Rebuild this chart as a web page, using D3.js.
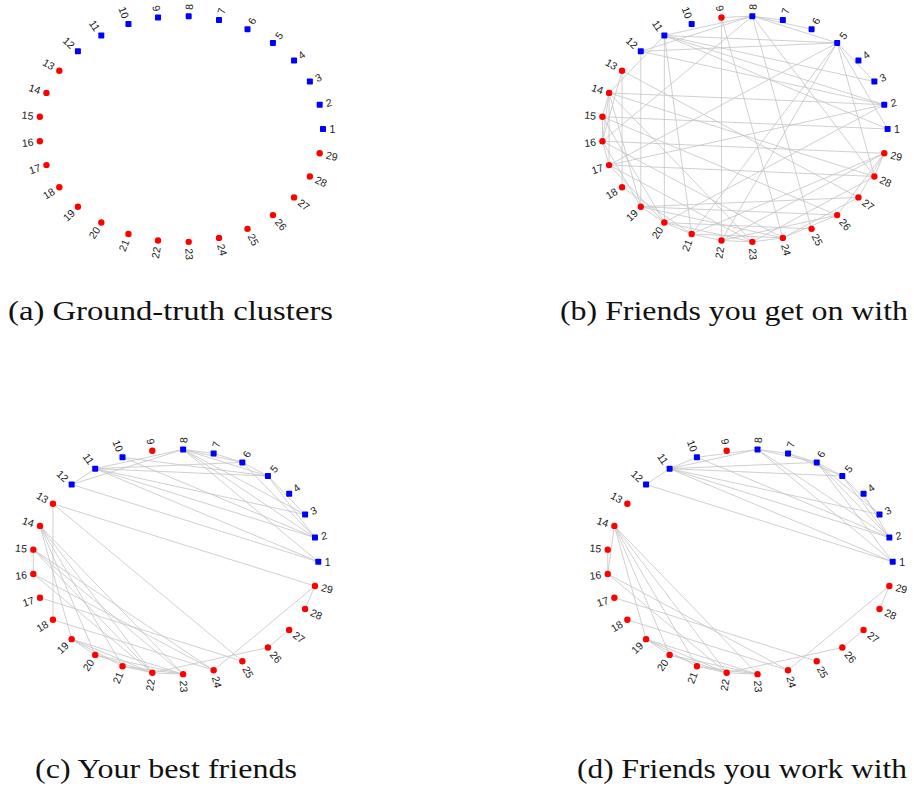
<!DOCTYPE html>
<html>
<head>
<meta charset="utf-8">
<script src="https://cdn.jsdelivr.net/npm/d3@7"></script>
<style>
  html, body { margin: 0; padding: 0; background: #ffffff; }
  svg { display: block; }
  .cap { font-family: "Liberation Serif", "Times New Roman", Times, serif; }
  .lbl { font-family: "Liberation Sans", Arial, Helvetica, sans-serif; }
</style>
</head>
<body>
<svg id="chart" width="914" height="793"></svg>
<script>
// ---------------- DATA ----------------
const nodeIds = d3.range(1, 30);                // 29 nodes
// ground truth cluster: 1..12 blue, 13..29 red
const groundTruth = [1,1,1,1,1,1,1,1,1,1,1,1, 2,2,2,2,2,2,2,2,2,2,2,2,2,2,2,2,2];
// detected clusters (node 9 lands in the red group)
const detected    = [1,1,1,1,1,1,1,1,2,1,1,1, 2,2,2,2,2,2,2,2,2,2,2,2,2,2,2,2,2];

const captions = ["(a) Ground-truth clusters", "(b) Friends you get on with",
                  "(c) Your best friends", "(d) Friends you work with"];

const edgesA = [];
const edgesB = [
  [8,9],[8,11],[8,5],[8,7],[8,6],[8,25],[8,28],[8,16],[8,12],
  [9,22],[9,24],[11,5],[11,2],[11,20],[11,21],[11,14],[11,1],[11,3],
  [5,3],[5,28],[5,21],[5,17],[5,1],[5,22],[12,19],[12,2],[12,5],
  [13,18],[13,27],[13,16],[14,15],[14,16],[14,17],[14,2],[14,23],[14,19],[14,28],
  [15,16],[15,1],[15,26],[15,20],[16,17],[16,24],[16,29],[16,19],
  [17,28],[17,23],[17,20],[17,2],[18,21],[19,20],[19,26],[19,27],[19,24],
  [20,21],[20,25],[20,23],[20,2],[21,22],[21,24],[22,23],[22,26],[22,29],
  [23,24],[24,26],[24,27],[26,29],[27,29],[28,29],[23,28],[21,29]
];
const edgesC = [
  [11,12],[12,8],[11,8],[12,1],[10,5],[11,5],[11,6],[11,3],[11,2],[11,1],
  [8,7],[8,6],[8,5],[8,3],[8,2],[8,1],[7,6],[6,5],[5,3],[5,2],[6,2],[10,2],
  [13,29],[13,18],[13,25],
  [14,19],[14,20],[14,21],[14,22],[14,23],
  [15,16],[15,22],[15,23],[15,24],[16,22],[16,24],[17,25],[18,24],
  [19,20],[19,21],[19,22],[19,23],[20,22],[20,23],[21,22],[21,23],[22,23],
  [22,26],[24,29],[26,27],[28,29]
];
const edgesD = [
  [11,12],[12,1],[11,10],[11,8],[10,8],[11,6],[11,5],[11,3],[11,2],[11,1],[10,2],
  [8,7],[8,6],[8,2],[8,1],[7,6],[7,5],[6,5],[6,3],[6,2],[6,1],[4,2],[5,2],[5,3],
  [14,16],[15,16],
  [14,19],[14,20],[14,21],[14,22],[14,23],
  [16,22],[16,24],[17,25],[18,24],
  [19,20],[19,21],[19,22],[19,23],[20,22],[20,23],[21,22],[21,23],[22,23],
  [22,26],[24,29],[26,27],[28,29]
];

// ---------------- LAYOUT ----------------
const panels = [
  {cx: 181.0, cy: 129.0, rx: 142.0, ry: 113.0, colors: groundTruth, edges: edgesA, cap: captions[0], capX: 8,   capY: 320, capW: 325},
  {cx: 744.6, cy: 129.0, rx: 143.0, ry: 113.0, colors: detected,    edges: edgesB, cap: captions[1], capX: 560, capY: 320, capW: 348},
  {cx: 175.4, cy: 561.8, rx: 142.9, ry: 112.5, colors: detected,    edges: edgesC, cap: captions[2], capX: 35,  capY: 778, capW: 262},
  {cx: 749.8, cy: 561.8, rx: 142.9, ry: 112.5, colors: detected,    edges: edgesD, cap: captions[3], capX: 577, capY: 778, capW: 330}
];

const colorScale = d3.scaleOrdinal().domain([1,2]).range(["#0000ff", "#ff0000"]);
const angle = d3.scaleLinear().domain([0, nodeIds.length]).range([0, 2 * Math.PI]);

const svg = d3.select("#chart");

panels.forEach(p => {
  const x = d3.scaleLinear().domain([-1, 1]).range([p.cx - p.rx, p.cx + p.rx]);
  const y = d3.scaleLinear().domain([-1, 1]).range([p.cy + p.ry, p.cy - p.ry]);
  const nodes = nodeIds.map((id, i) => {
    const a = angle(i);
    return {id, a, ux: Math.cos(a), uy: Math.sin(a), px: x(Math.cos(a)), py: y(Math.sin(a)), c: p.colors[i]};
  });
  const byId = new Map(nodes.map(n => [n.id, n]));
  const g = svg.append("g");

  g.append("g").selectAll("line").data(p.edges).join("line")
    .attr("x1", d => byId.get(d[0]).px).attr("y1", d => byId.get(d[0]).py)
    .attr("x2", d => byId.get(d[1]).px).attr("y2", d => byId.get(d[1]).py)
    .attr("stroke", "#c4c4c4").attr("stroke-width", 0.8);

  const ng = g.append("g");
  ng.selectAll("rect").data(nodes.filter(n => n.c === 1)).join("rect")
    .attr("x", d => d.px - 3).attr("y", d => d.py - 3)
    .attr("width", 6).attr("height", 6).attr("rx", 0.8)
    .attr("fill", d => colorScale(d.c));
  ng.selectAll("circle").data(nodes.filter(n => n.c === 2)).join("circle")
    .attr("cx", d => d.px).attr("cy", d => d.py).attr("r", 3.2)
    .attr("fill", d => colorScale(d.c));

  // labels radially outward
  g.append("g").selectAll("text").data(nodes).join("text")
    .attr("class", "lbl")
    .attr("transform", d => {
      const deg = -d.a * 180 / Math.PI;
      const lx = d.px + 6.5 * d.ux, ly = d.py - 6.5 * d.uy;
      const left = d.ux < 0;
      return `translate(${lx},${ly}) rotate(${left ? deg + 180 : deg})`;
    })
    .attr("text-anchor", d => d.ux < 0 ? "end" : "start")
    .attr("dy", "0.36em")
    .attr("font-size", 10.5)
    .attr("fill", "#1a1a1a")
    .text(d => d.id);

  svg.append("text")
    .attr("class", "cap")
    .attr("x", p.capX).attr("y", p.capY)
    .attr("font-size", 28)
    .attr("textLength", p.capW).attr("lengthAdjust", "spacingAndGlyphs")
    .attr("fill", "#111")
    .text(p.cap);
});
</script>
</body>
</html>
